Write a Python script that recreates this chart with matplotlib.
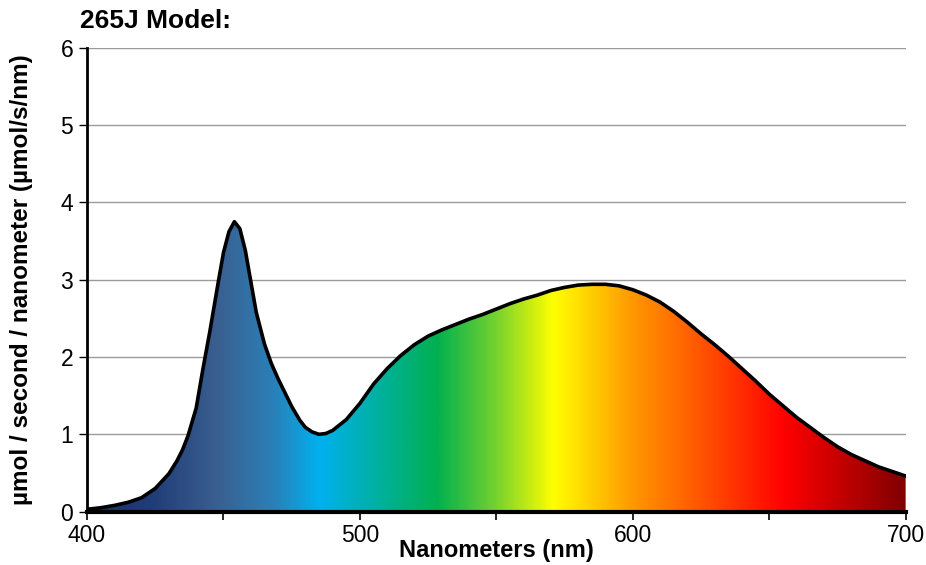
import numpy as np
import matplotlib
matplotlib.use("Agg")
import matplotlib.pyplot as plt
from matplotlib.colors import LinearSegmentedColormap
from matplotlib.ticker import FuncFormatter, MultipleLocator

plt.rcParams['font.family'] = ['Liberation Sans', 'DejaVu Sans']

wavelength = [400, 405, 410, 415, 420, 425, 430, 433, 435, 437, 440, 442.5, 445, 448, 450, 452, 454, 456,
              458, 460, 462, 465, 467.5, 470, 475, 478, 480, 482.5, 485, 487.5, 490, 495, 500, 505, 510, 515, 520,
              525, 530, 535, 540, 545, 550, 555, 560, 565, 570, 575, 580, 585, 590, 595,
              600, 605, 610, 615, 620, 625, 630, 635, 640, 645, 650, 655, 660, 665, 670,
              675, 680, 685, 690, 695, 700]
intensity = [0.03, 0.05, 0.08, 0.12, 0.18, 0.30, 0.49, 0.66, 0.80, 0.98, 1.34, 1.85, 2.33, 2.95, 3.35, 3.62, 3.75, 3.66,
             3.38, 2.98, 2.58, 2.17, 1.92, 1.72, 1.36, 1.18, 1.09, 1.03, 1.00, 1.01, 1.05, 1.19, 1.40, 1.65, 1.85, 2.02, 2.16,
             2.27, 2.35, 2.42, 2.49, 2.55, 2.62, 2.69, 2.75, 2.80, 2.86, 2.90, 2.93, 2.94, 2.94, 2.92,
             2.87, 2.80, 2.71, 2.59, 2.45, 2.30, 2.16, 2.01, 1.85, 1.69, 1.52, 1.37, 1.22, 1.09, 0.96,
             0.84, 0.74, 0.66, 0.58, 0.52, 0.46]

# spectrum gradient stops (nm, colour)
grad_nm = [400, 424, 448, 468, 485, 501, 528, 549, 571, 600, 623, 656, 700]
grad_col = ['#1b2e66', '#213d78', '#3a6090', '#2a80b8', '#00b0f0', '#00b0b4', '#00b050',
            '#70d030', '#ffff00', '#ff9800', '#ff5a00', '#ff0000', '#800000']

title = "265J Model:"
xlabel = "Nanometers (nm)"
ylabel = "µmol / second / nanometer (µmol/s/nm)"

fig = plt.figure(figsize=(9.26, 5.65), dpi=100)
ax = fig.add_axes([0.094, 0.0945, 0.884, 0.821])

x0, x1 = 400, 700
stops = [(n - x0) / (x1 - x0) for n in grad_nm]
cmap = LinearSegmentedColormap.from_list("spec", list(zip(stops, grad_col)), N=512)

grad = np.linspace(0, 1, 600).reshape(1, -1)
im = ax.imshow(grad, aspect='auto', cmap=cmap, extent=[x0, x1, 0, 6],
               origin='lower', zorder=2, interpolation='bilinear')
clip = ax.fill(list(wavelength) + [x1, x0], list(intensity) + [0, 0],
               facecolor='none', edgecolor='none')[0]
im.set_clip_path(clip)

ax.plot(wavelength, intensity, color='black', lw=2.6, zorder=4,
        solid_joinstyle='round', solid_capstyle='round')

ax.set_xlim(x0, x1)
ax.set_ylim(0, 6)
ax.yaxis.grid(True, color='#9a9a9a', lw=1.0, zorder=1)
ax.set_axisbelow(True)
for s in ['top', 'right']:
    ax.spines[s].set_visible(False)
ax.spines['left'].set_linewidth(2.0)
ax.spines['bottom'].set_linewidth(3.0)
ax.spines['left'].set_zorder(5)
ax.spines['bottom'].set_zorder(5)

ax.xaxis.set_major_locator(MultipleLocator(50))
ax.xaxis.set_major_formatter(FuncFormatter(lambda v, p: f"{int(v)}" if int(round(v)) % 100 == 0 else ""))
ax.yaxis.set_major_locator(MultipleLocator(1))
ax.tick_params(axis='x', direction='out', length=6, width=1.2, labelsize=16.5, pad=3)
ax.tick_params(axis='y', direction='out', length=6, width=1.0, labelsize=16.5, pad=4)

ax.set_xlabel(xlabel, fontsize=17, fontweight='bold', labelpad=-6)
ax.set_ylabel(ylabel, fontsize=17.5, fontweight='bold', labelpad=20)
fig.text(0.086, 0.962, title, fontsize=19, fontweight='bold', ha='left', va='center')

fig.savefig("out.png", dpi=100)
